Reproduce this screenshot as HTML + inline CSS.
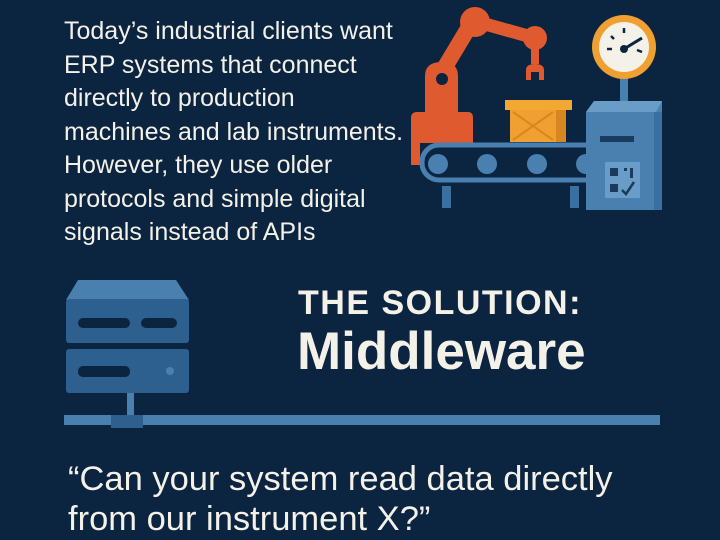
<!DOCTYPE html>
<html><head><style>
html,body{margin:0;padding:0;}
body{width:720px;height:540px;background:#0b2440;position:relative;overflow:hidden;font-family:"Liberation Sans",sans-serif;color:#f4f1e8;}
.t{position:absolute;left:64px;top:15px;font-size:25px;line-height:33.5px;white-space:nowrap;}
.h1{position:absolute;left:298px;top:284px;font-size:34px;font-weight:bold;letter-spacing:1.5px;}
.h2{position:absolute;left:297px;top:321px;font-size:53px;font-weight:bold;}
.q{position:absolute;left:68px;top:459px;font-size:34.5px;line-height:40px;white-space:nowrap;}
svg{position:absolute;left:0;top:0;}
</style></head><body>
<svg width="720" height="540">
<g fill="#e05a30">
<path d="M411 165 L411 118 Q411 112 417 112 L425 112 L425 76 Q425 62 442 62 Q458 62 458 76 L458 112 L468 112 Q473 112 473 118 L473 143 L420 143 L420 165 Z"/>
<line x1="442" y1="72" x2="472" y2="22" stroke="#e05a30" stroke-width="16"/>
<circle cx="475" cy="22" r="15"/>
<line x1="478" y1="22" x2="535" y2="38" stroke="#e05a30" stroke-width="13"/>
<circle cx="535" cy="38" r="12"/>
<rect x="531" y="48" width="8" height="16"/>
<path d="M526 80 L526 70 Q526 64 535 64 Q544 64 544 70 L544 80 L539 80 L539 72 L531 72 L531 80 Z"/>
</g>
<circle cx="442" cy="79" r="6" fill="#0b2440"/>
<rect x="510" y="108" width="56" height="34" fill="#f0a030"/>
<rect x="556" y="110" width="10" height="32" fill="#d8861f"/>
<rect x="505" y="100" width="67" height="10" fill="#f4a834"/>
<path d="M513 112 L553 140 M553 112 L513 140" stroke="#d8861f" stroke-width="2"/>
<rect x="422" y="145" width="180" height="35" rx="17" fill="#0b2440" stroke="#4a80b0" stroke-width="5"/>
<circle cx="438" cy="164" r="10" fill="#4a80b0"/>
<circle cx="487" cy="164" r="10" fill="#4a80b0"/>
<circle cx="537" cy="164" r="10" fill="#4a80b0"/>
<circle cx="586" cy="164" r="10" fill="#4a80b0"/>
<rect x="442" y="186" width="9" height="22" fill="#3a6fa0"/>
<rect x="570" y="186" width="9" height="22" fill="#3a6fa0"/>
<rect x="620" y="78" width="8" height="24" fill="#4a80b0"/>
<circle cx="624" cy="47" r="32" fill="#f0a030"/>
<circle cx="624" cy="47" r="25" fill="#f4f1e8"/>
<line x1="624" y1="49" x2="642" y2="38" stroke="#0b2440" stroke-width="3"/>
<circle cx="624" cy="49" r="4" fill="#0b2440"/>
<g stroke="#0b2440" stroke-width="2.5"><line x1="624" y1="28" x2="624" y2="33"/><line x1="607" y1="49" x2="612" y2="49"/><line x1="611" y1="36" x2="614" y2="39"/><line x1="637" y1="50" x2="642" y2="52"/></g>
<path d="M586 112 L594 101 L662 101 L662 205 L654 210 L586 210 Z" fill="#4a80b0"/>
<path d="M586 112 L594 101 L662 101 L656 112 Z" fill="#6a9cc8"/>
<rect x="654" y="112" width="8" height="98" fill="#3a6fa0"/>
<rect x="600" y="136" width="34" height="6" fill="#1a3a5e"/>
<rect x="605" y="162" width="35" height="36" fill="#6a9cc8"/>
<g fill="#1a3a5e"><rect x="610" y="168" width="8" height="8"/><rect x="624" y="168" width="3" height="3"/><rect x="630" y="168" width="3" height="10"/><rect x="610" y="184" width="8" height="8"/><path d="M622 190 L626 194 L634 182" stroke="#1a3a5e" stroke-width="2.5" fill="none"/></g>
<path d="M66 300 L78 280 L176 280 L189 300 Z" fill="#4a80b0"/>
<rect x="66" y="299" width="123" height="44" rx="3" fill="#2d5f8f"/>
<rect x="78" y="318" width="52" height="10" rx="5" fill="#0b2440"/>
<rect x="141" y="318" width="36" height="10" rx="5" fill="#0b2440"/>
<rect x="66" y="349" width="123" height="44" rx="3" fill="#2d5f8f"/>
<rect x="78" y="366" width="52" height="11" rx="5" fill="#0b2440"/>
<circle cx="170" cy="371" r="4" fill="#4a80b0"/>
<rect x="127" y="393" width="7" height="22" fill="#4a80b0"/>
<rect x="64" y="415" width="596" height="10" fill="#4a80b0"/>
<rect x="111" y="415" width="32" height="13" fill="#2d5f8f"/>
</svg>
<div class="t">Today’s industrial clients want<br>ERP systems that connect<br>directly to production<br>machines and lab instruments.<br>However, they use older<br>protocols and simple digital<br>signals instead of APIs</div>
<div class="h1">THE SOLUTION:</div>
<div class="h2">Middleware</div>
<div class="q">“Can your system read data directly<br>from our instrument X?”</div>
</body></html>
